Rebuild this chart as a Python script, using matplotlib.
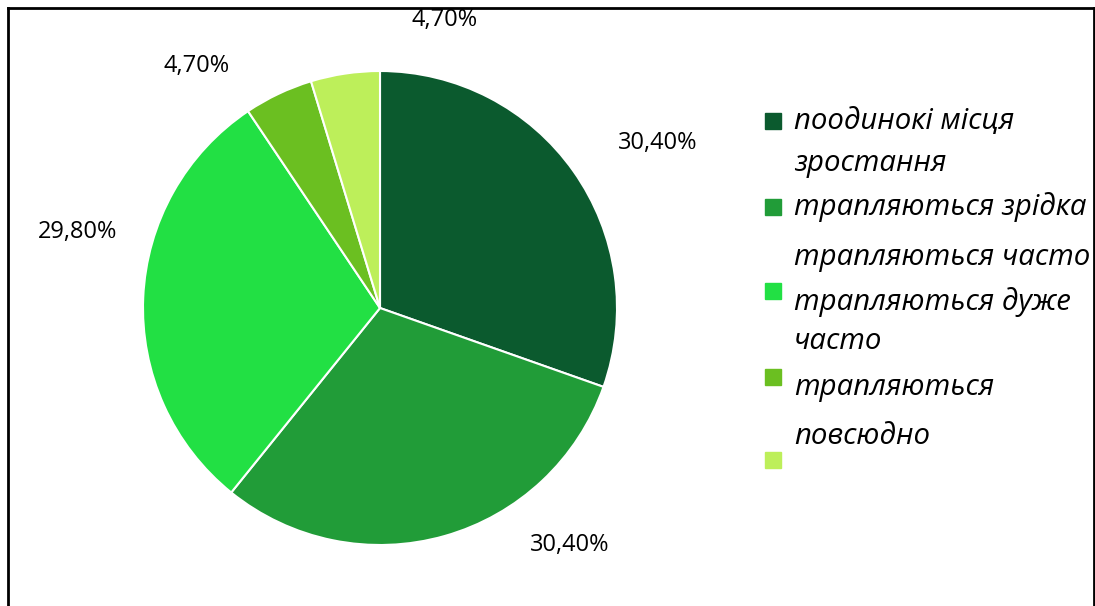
import matplotlib.pyplot as plt
from matplotlib.patches import Rectangle
from matplotlib.lines import Line2D

# --- DATA ---
shares = [30.4, 30.4, 29.8, 4.7, 4.7]
pct_labels = ["30,40%", "30,40%", "29,80%", "4,70%", "4,70%"]
colors = ["#0B5A2E", "#219C38", "#22E044", "#6BBF21", "#BDEF5A"]
legend_lines = ["поодинокі місця", "зростання", "трапляються зрідка",
                "трапляються часто", "трапляються дуже", "часто",
                "трапляються", "повсюдно"]

W, H = 1095, 606
fig = plt.figure(figsize=(W / 100, H / 100), dpi=100)

def fx(px):
    return px / W

def fy(py):
    return 1 - py / H

# --- PIE ---
cx, cy, r = 380, 308, 237
ax = fig.add_axes([fx(cx - r), fy(cy + r), 2 * r / W, 2 * r / H])
ax.pie(shares, colors=colors, startangle=90, counterclock=False,
       wedgeprops=dict(edgecolor="white", linewidth=1.5))
ax.set_xlim(-1, 1)
ax.set_ylim(-1, 1)
ax.axis("off")

# percentage labels (positions as in the original chart)
label_pos = [(658, 143), (570, 545), (78, 232), (197, 66), (445, 20)]
for (px, py), txt in zip(label_pos, pct_labels):
    fig.text(fx(px), fy(py), txt, ha="center", va="center",
             fontsize=17, family="Open Sans")

# --- LEGEND (drawn by hand, the original wraps text unevenly) ---
marker_y = [121, 207, 291, 377, 460]
for my, c in zip(marker_y, colors):
    fig.add_artist(Rectangle((fx(765), fy(my + 8)), 16 / W, 16 / H,
                             transform=fig.transFigure, color=c))

text_y = [121, 164, 207, 257, 302, 342, 388, 436]
for ty, txt in zip(text_y, legend_lines):
    fig.text(fx(794), fy(ty), txt, ha="left", va="center",
             fontsize=21.2, style="italic", family="Open Sans")

# --- FRAME (top, left, right) ---
kw = dict(transform=fig.transFigure, color="black", linewidth=2)
fig.add_artist(Line2D([fx(8), fx(8)], [0, fy(8)], **kw))
fig.add_artist(Line2D([fx(8), fx(1094)], [fy(8), fy(8)], **kw))
fig.add_artist(Line2D([fx(1094), fx(1094)], [0, fy(8)], **kw))

fig.savefig("out.png", dpi=100, facecolor="white")
